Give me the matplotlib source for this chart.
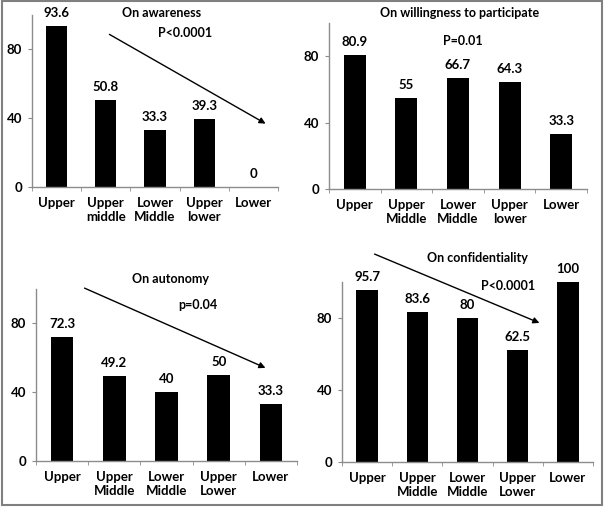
import numpy as np
import matplotlib.pyplot as plt
from matplotlib.patches import Rectangle, FancyArrowPatch

plt.rcParams['font.family'] = ['Lato', 'DejaVu Sans']
plt.rcParams['font.weight'] = 'bold'

# data
titles = ["On awareness", "On willingness to participate", "On autonomy", "On confidentiality"]
p_texts = ["P<0.0001", "P=0.01", "p=0.04", "P<0.0001"]
labels_tl = ["Upper", "Upper\nmiddle", "Lower\nMiddle", "Upper\nlower", "Lower"]
labels_tr = ["Upper", "Upper\nMiddle", "Lower\nMiddle", "Upper\nlower", "Lower"]
labels_bl = ["Upper", "Upper\nMiddle", "Lower\nMiddle", "Upper\nLower", "Lower"]
labels_br = ["Upper", "Upper\nMiddle", "Lower\nMiddle", "Upper\nLower", "Lower"]
awareness = [93.6, 50.8, 33.3, 39.3, 0]
willingness = [80.9, 55, 66.7, 64.3, 33.3]
autonomy = [72.3, 49.2, 40, 50, 33.3]
confidentiality = [95.7, 83.6, 80, 62.5, 100]
value_fmt = [["93.6", "50.8", "33.3", "39.3", "0"],
             ["80.9", "55", "66.7", "64.3", "33.3"],
             ["72.3", "49.2", "40", "50", "33.3"],
             ["95.7", "83.6", "80", "62.5", "100"]]

W, H = 605, 507
fig = plt.figure(figsize=(W / 100, H / 100), dpi=100)

def fx(x):
    return x / W

def fy(y):
    return 1 - y / H

# panel boxes in pixels: left, right, top(=100), bottom(=0)
boxes = [(32, 278, 15, 187), (329, 587, 23, 189), (36, 297, 289, 461), (342, 593, 282, 462)]
# title / p-value positions (pixels, centre)
title_pos = [(162, 13), (460, 13), (171, 279), (477, 258)]
p_pos = [(185, 33), (463, 41), (198, 305), (508, 286)]
# trend arrows (pixels), None = no arrow
arrows = [((107, 33), (268, 125)), None, ((82, 287), (268, 369)), ((372, 253), (542, 324))]

series = [awareness, willingness, autonomy, confidentiality]
all_labels = [labels_tl, labels_tr, labels_bl, labels_br]
axis_col = '#8c8c8c'
fs = 9.5

for i in range(4):
    l, r, t, b = boxes[i]
    ax = fig.add_axes([fx(l), fy(b), (r - l) / W, (b - t) / H])
    x = np.arange(5)
    ax.bar(x, series[i], width=0.43, color='black')
    ax.set_xlim(-0.5, 4.5)
    ax.set_ylim(0, 100)
    ax.set_yticks([0, 40, 80])
    ax.set_xticks(x)
    ax.set_xticklabels(all_labels[i], fontsize=fs, fontweight='bold', linespacing=1.25)
    ax.set_xticks(np.arange(-0.5, 5, 1), minor=True)
    ax.tick_params(axis='x', which='major', length=0, pad=7)
    ax.tick_params(axis='x', which='minor', length=3, color=axis_col, direction='out')
    ax.tick_params(axis='y', length=3, color=axis_col, labelsize=fs, pad=4)
    for s in ['top', 'right']:
        ax.spines[s].set_visible(False)
    for s in ['left', 'bottom']:
        ax.spines[s].set_color(axis_col)
        ax.spines[s].set_linewidth(1)
    for xi, v, txt in zip(x, series[i], value_fmt[i]):
        ax.annotate(txt, (xi, v), xytext=(0, 5), textcoords='offset points',
                    ha='center', va='bottom', fontsize=fs, fontweight='bold')
    fig.text(fx(title_pos[i][0]), fy(title_pos[i][1]), titles[i], ha='center', va='center',
             fontsize=9, fontweight='bold')
    fig.text(fx(p_pos[i][0]), fy(p_pos[i][1]), p_texts[i], ha='center', va='center',
             fontsize=9, fontweight='bold')
    if arrows[i] is not None:
        (x0, y0), (x1, y1) = arrows[i]
        fig.add_artist(FancyArrowPatch(
            (fx(x0), fy(y0)), (fx(x1), fy(y1)), transform=fig.transFigure,
            arrowstyle='-|>', mutation_scale=9, color='black', lw=1.0))

# outer frame
fig.add_artist(Rectangle((fx(1.5), fy(505)), (602 - 1.5) / W, (505 - 0.5) / H,
                         transform=fig.transFigure, fill=False, edgecolor='#808080', lw=1.5))

fig.savefig('out.png', dpi=100)
